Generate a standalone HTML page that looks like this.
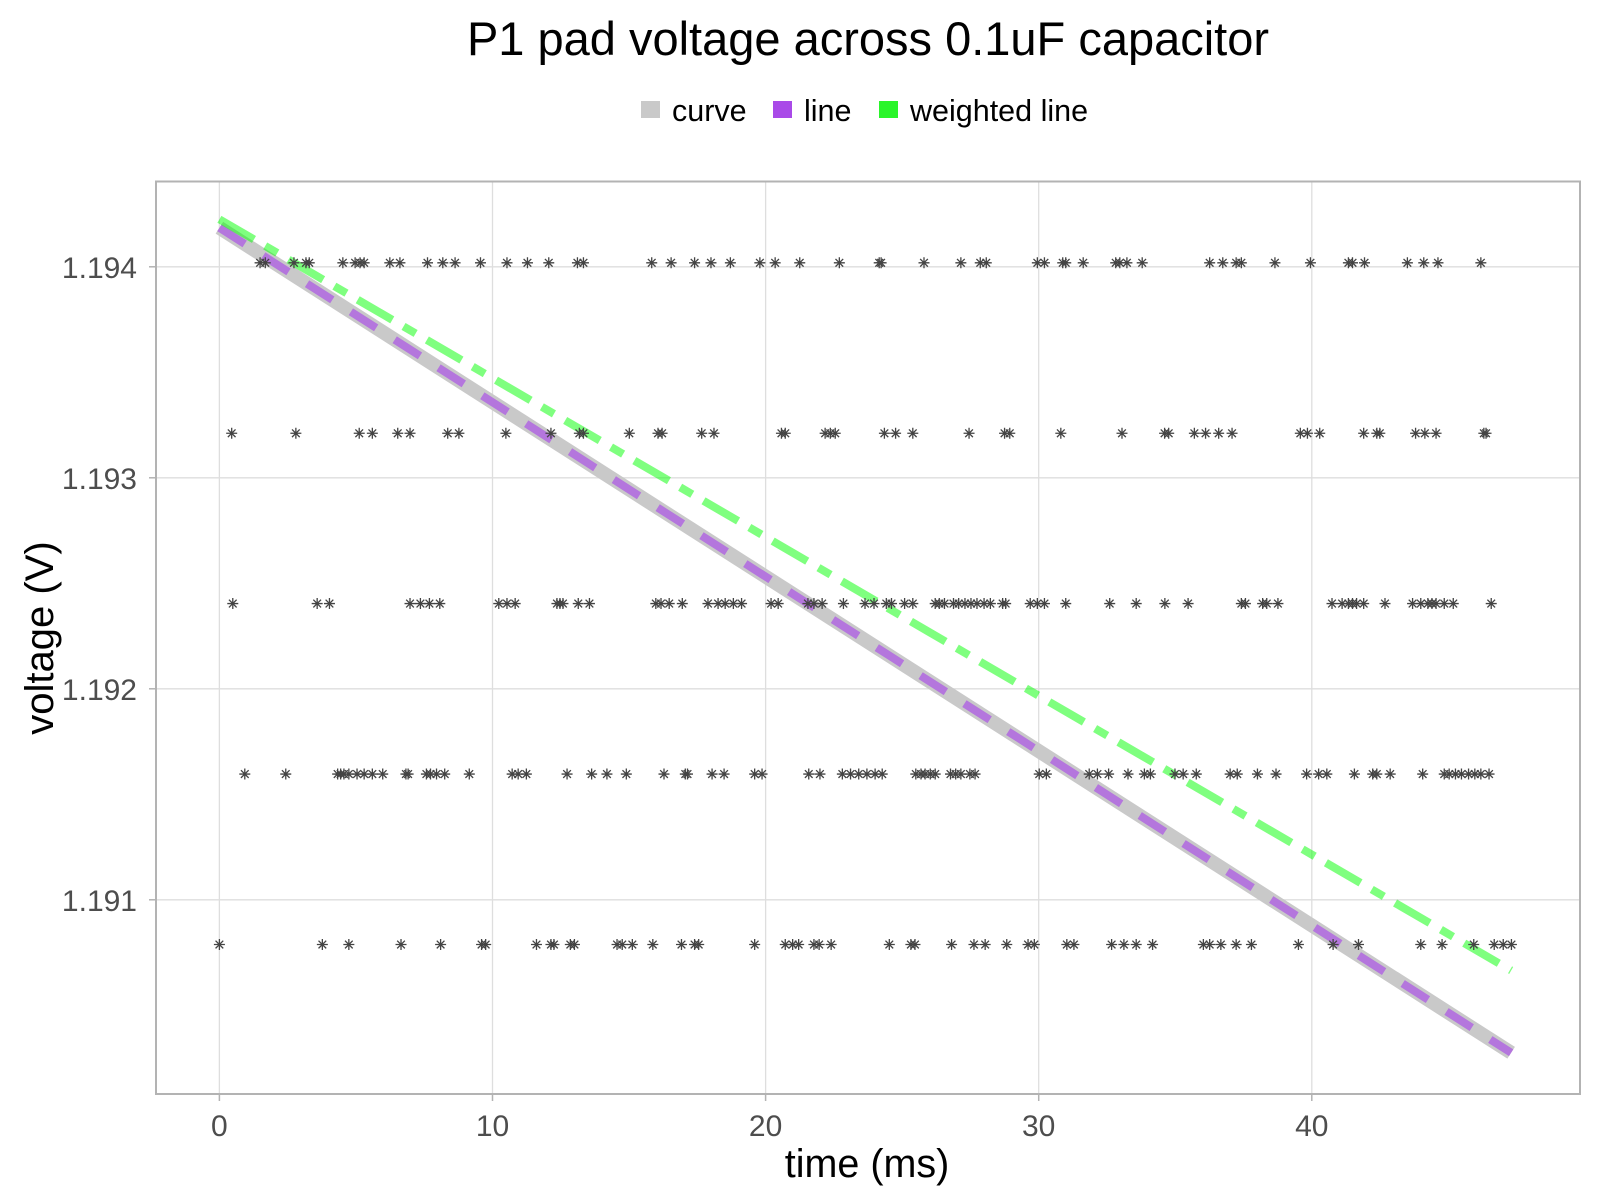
<!DOCTYPE html>
<html><head><meta charset="utf-8"><style>
html,body{margin:0;padding:0;background:#fff;width:1600px;height:1200px;overflow:hidden}
svg{display:block;font-family:"Liberation Sans",Arial,sans-serif}
</style></head><body>
<svg id="chart" width="1600" height="1200" viewBox="0 0 1600 1200">
<text x="868" y="55" font-size="47" text-anchor="middle" fill="#000">P1 pad voltage across 0.1uF capacitor</text>
<g>
<g><rect x="641" y="101" width="19" height="17" fill="#c9c9c9"/><text x="672" y="121" font-size="30.5" fill="#000">curve</text></g>
<g><rect x="773" y="101" width="19" height="17" fill="#a94ae8"/><text x="804" y="121" font-size="30.5" fill="#000">line</text></g>
<g><rect x="879" y="101" width="19" height="17" fill="#2af52a"/><text x="910" y="121" font-size="30.5" fill="#000">weighted line</text></g>
</g>
<g id="grid"></g>
<g id="series"></g>
<g id="points"></g>
<rect x="156" y="181.5" width="1424" height="912.5" fill="none" stroke="#b3b3b3" stroke-width="2"/>
<g id="axes"></g>
<text x="867" y="1177" font-size="39.5" text-anchor="middle" fill="#000">time (ms)</text>
<text transform="translate(53,638) rotate(-90)" font-size="40" text-anchor="middle" fill="#000">voltage (V)</text>
</svg>
<script>
const xTicks = [0, 10, 20, 30, 40];
const yTicks = [1.191, 1.192, 1.193, 1.194];
const yTickLabels = ["1.191", "1.192", "1.193", "1.194"];
const rowLevels = [1.194019, 1.193211, 1.192404, 1.191596, 1.190788];
const row1 = [1.49,1.68,2.73,3.17,3.29,4.52,4.97,5.15,5.30,6.24,6.61,7.62,8.18,8.63,9.56,10.53,11.28,12.06,13.11,13.33,15.83,16.54,17.40,18.00,18.71,19.79,20.35,21.25,22.70,24.16,24.23,25.80,27.15,27.86,28.08,29.95,30.21,30.88,30.99,31.63,32.82,32.97,33.23,33.79,36.26,36.74,37.23,37.42,38.65,39.95,41.34,41.49,41.93,43.50,44.10,44.62,46.19];
const row2 = [0.45,2.80,5.12,5.60,6.53,6.98,8.36,8.77,10.49,12.14,13.18,13.33,15.01,16.06,16.21,17.66,18.11,20.58,20.72,22.18,22.37,22.55,24.35,24.76,25.39,27.45,28.75,28.94,30.81,33.05,34.61,34.76,35.70,36.11,36.59,37.08,39.58,39.84,40.29,41.90,42.38,42.49,43.80,44.14,44.55,46.30,46.38];
const row3 = [0.49,3.58,4.03,6.98,7.36,7.69,8.07,10.23,10.53,10.83,12.36,12.47,12.58,13.14,13.55,15.98,16.17,16.47,16.95,17.89,18.26,18.52,18.82,19.12,20.20,20.46,21.55,21.77,22.07,22.85,23.64,23.97,24.42,24.61,25.09,25.39,26.21,26.36,26.55,26.88,27.07,27.30,27.52,27.74,28.00,28.23,28.68,28.79,29.69,29.95,30.21,30.99,32.60,33.57,34.62,35.47,37.42,37.57,38.20,38.35,38.76,40.74,41.11,41.34,41.49,41.64,41.90,42.68,43.69,43.99,44.25,44.40,44.55,44.85,45.18,46.57];
const row4 = [0.93,2.43,4.33,4.44,4.56,4.74,5.04,5.30,5.60,5.98,6.83,6.91,7.58,7.73,7.95,8.25,9.15,10.72,10.94,11.24,12.73,13.63,14.19,14.90,16.28,17.06,17.14,18.04,18.48,19.60,19.87,21.58,21.99,22.81,23.11,23.41,23.71,24.01,24.27,25.50,25.69,25.84,26.03,26.21,26.77,26.96,27.15,27.48,27.67,30.02,30.28,31.85,32.15,32.56,33.27,33.87,34.09,34.99,35.29,35.77,37.01,37.27,38.01,38.69,39.81,40.25,40.55,41.56,42.23,42.38,42.87,44.06,44.85,45.03,45.26,45.48,45.74,45.97,46.19,46.49];
const row5 = [0,3.77,4.74,6.65,8.10,9.60,9.75,11.61,12.14,12.25,12.85,13.00,14.56,14.75,15.12,15.87,16.92,17.40,17.55,19.60,20.72,20.99,21.21,21.77,21.96,22.40,24.53,25.32,25.47,26.81,27.63,28.04,28.83,29.61,29.84,31.03,31.29,32.67,33.12,33.57,34.17,36.03,36.26,36.67,37.23,37.79,39.51,40.78,41.71,43.99,44.77,45.93,46.68,47.01,47.31];
const rows = [row1, row2, row3, row4, row5];
const fitT = [0, 47.3];
const curveV = [1.194185, 1.190275];
const lineV = [1.194185, 1.190275];
const weightedV = [1.194225, 1.190665];

const NS = "http://www.w3.org/2000/svg";
const X = t => 219.4 + t * 27.31;
const Y = v => 266.8 + (1.194 - v) * 211000;
function mk(tag, attrs, parent){const e=document.createElementNS(NS,tag);for(const k in attrs)e.setAttribute(k,attrs[k]);parent.appendChild(e);return e;}
const grid=document.getElementById('grid'), axes=document.getElementById('axes'), series=document.getElementById('series'), pts=document.getElementById('points');

xTicks.forEach(t=>{
  const g=mk('line',{x1:X(t),x2:X(t),y1:181.5,y2:1094,stroke:'#dedede','stroke-width':1.3},grid);
  
  
  const tk=mk('line',{x1:X(t),x2:X(t),y1:1094,y2:1101,stroke:'#b3b3b3','stroke-width':1.5},axes);
  
  
  const l=mk('text',{x:X(t),y:1136,'font-size':30,'text-anchor':'middle',fill:'#4d4d4d'},axes);
  l.textContent=String(t);
  
  
});
yTicks.forEach((v,i)=>{
  const g=mk('line',{x1:156,x2:1580,y1:Y(v),y2:Y(v),stroke:'#dedede','stroke-width':1.3},grid);
  
  
  const tk=mk('line',{x1:149,x2:156,y1:Y(v),y2:Y(v),stroke:'#b3b3b3','stroke-width':1.5},axes);
  
  
  const l=mk('text',{x:137,y:Y(v)+11,'font-size':30,'text-anchor':'end',fill:'#4d4d4d'},axes);
  l.textContent=yTickLabels[i];
  
  
});

const c=mk('line',{x1:X(fitT[0]),y1:Y(curveV[0]),x2:X(fitT[1]),y2:Y(curveV[1]),stroke:'#c9c9c9','stroke-width':14},series);


const ln=mk('line',{x1:X(fitT[0]),y1:Y(lineV[0]),x2:X(fitT[1]),y2:Y(lineV[1]),stroke:'#a94ae8','stroke-opacity':0.65,'stroke-width':8,'stroke-dasharray':'30 22'},series);


const w=mk('line',{x1:X(fitT[0]),y1:Y(weightedV[0]),x2:X(fitT[1]),y2:Y(weightedV[1]),stroke:'#00ff00','stroke-opacity':0.5,'stroke-width':8,'stroke-dasharray':'40 13 14 13'},series);



rows.forEach((r,ri)=>{
  r.forEach(t=>{
    const x=X(t), y=Y(rowLevels[ri]), s=5.5;
    const d=`M${x-s} ${y}H${x+s}M${x} ${y-s}V${y+s}M${x-s*0.7} ${y-s*0.7}L${x+s*0.7} ${y+s*0.7}M${x-s*0.7} ${y+s*0.7}L${x+s*0.7} ${y-s*0.7}`;
    const p=mk('path',{d:d,stroke:'#444','stroke-width':1.3,fill:'none'},pts);
    
    
  });
});
</script>
</body></html>
